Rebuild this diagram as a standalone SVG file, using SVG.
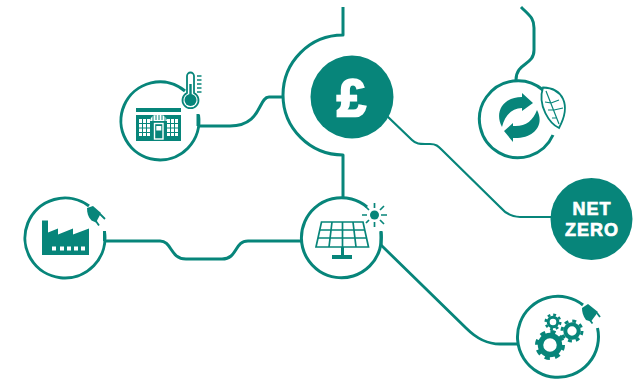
<svg xmlns="http://www.w3.org/2000/svg" width="633" height="379" viewBox="0 0 633 379">
<style>
.l{fill:none;stroke:#07857a;stroke-width:3;stroke-linejoin:round}
.t{stroke-width:2.2}
.m{stroke-width:2.8}
.f{fill:#07857a}
.s{fill:none;stroke:#07857a}
.tx{font-family:"Liberation Sans",sans-serif;font-weight:700;fill:#fff;stroke:#fff;stroke-width:.7;text-anchor:middle;letter-spacing:1px}
</style>
<rect width="633" height="379" fill="#fff"/>
<g id="connectors">
<path class="l" d="M343 7V35A60 60 0 0 0 343 155V197"/>
<path class="l" d="M283 97H269C258 97 262 126 230 126H198"/>
<path class="l" d="M105 241H160C172 241 170 259 186 259H222C238 259 234 241 248 241H301"/>
<path class="l m" d="M381 245L466 328C478 340 488 344 500 344H517"/>
<path class="l t" d="M387 116L412 140C416 144 420 144 425 144H430C436 144 438 146 442 150L500 207C506 214 512 217 520 217H552"/>
<path class="l" d="M521 7C530 16 534 18 534 28V50C534 66 516 62 516 80"/>
<path class="l" d="M198 114V126M104.500 231V241M381 231V246"/>
</g>
<g id="pound">
<circle class="f" cx="352" cy="97" r="41.500"/>
<text class="tx" x="351.500" y="116" font-size="52" style="letter-spacing:0;stroke-width:2.400">£</text>
</g>
<g id="net-zero">
<circle class="f" cx="591.500" cy="219" r="41"/>
<text class="tx" x="592" y="215" font-size="18">NET</text>
<text class="tx" x="592" y="236" font-size="18">ZERO</text>
</g>
<g id="shop">
<path class="l" d="M198.500 115A39 39 0 1 1 185 91"/>
<rect class="f" x="136" y="108" width="45" height="4"/>
<rect class="f" x="136" y="115" width="45" height="26"/>
<rect x="139" y="119" width="11" height="17" fill="#fff"/>
<rect x="167" y="119" width="11" height="17" fill="#fff"/>
<path d="M139 123.500H150M139 128H150M139 132.500H150M142.500 119V136M146.500 119V136M167 123.500H178M167 128H178M167 132.500H178M170.500 119V136M174.500 119V136" class="s" stroke-width="1"/>
<path d="M150 121Q151 116 155 115H162Q166 116 167 121" fill="#fff"/>
<path d="M153 116V121M156 115V120M159 115V120M162 115V120M165 116V121" class="s" stroke-width="1"/>
<rect x="154.500" y="123.500" width="8.500" height="15.500" class="s" style="stroke:#fff" stroke-width="1.400"/>
<rect x="156.300" y="126" width="5" height="4.500" fill="#fff"/>
<path d="M187 76A3.500 3.500 0 0 1 194 76V93A8 8 0 1 1 187 93Z" fill="#fff" stroke="#07857a" stroke-width="1.800"/>
<circle class="f" cx="190.500" cy="100" r="6"/>
<rect class="f" x="189.300" y="84" width="2.400" height="12"/>
<path d="M197 76H201.500M197 80H201.500M197 84H201.500M197 88H201.500M197 92H201.500" class="s" stroke-width="1.300"/>
</g>
<g id="factory">
<path class="l" d="M104.500 232A40 40 0 1 1 89 206"/>
<path class="f" d="M42 220.500H48V232.500L58 228.500V234.500L73 228.500V234.500L89 228.500V255H42Z"/>
<path d="M52 246.500h4v4h-4zM60 246.500h4v4h-4zM67 246.500h4v4h-4zM74 246.500h4v4h-4zM81 246.500h4v4h-4z" fill="#fff"/>
<path class="f" d="M87 208L93 206L101 213L96 222.500L91.500 220.500C88 217 87 213 87 208Z"/>
<path d="M100 214L105 219M95.500 220.500L99 225.500" class="s" stroke-width="1.800"/>
</g>
<g id="solar">
<path class="l" d="M381 232A40 40 0 1 1 367 207"/>
<path d="M321.500 222H363L368.500 247H316Z" fill="#fff" stroke="#07857a" stroke-width="1.700"/>
<path d="M319.500 230H365M318 238H367M332 222L329 247M342.500 222V247M353 222L356 247" class="s" stroke-width="1.700"/>
<rect class="f" x="341" y="247" width="3" height="9"/>
<rect class="f" x="332" y="255" width="20" height="4"/>
<circle class="f" cx="374.500" cy="215" r="4.500"/>
<path d="M374.500 203V208M374.500 222V227M362 215H367M381 215H387M366 207L369 210M380 220L384 224M366 223L369 220M380 210L384 206" class="s" stroke-width="1.700"/>
</g>
<g id="recycle">
<path class="l" d="M543 90A38.500 38.500 0 1 0 553 135"/>
<path d="M543 87.500C562 88 572 104 559 128C550 124 537 106 543 87.500Z" fill="#fff" stroke="#07857a" stroke-width="1.800"/>
<path d="M546 91L559 124M551 103L559 100M554 110L563 108M551 103L545 102M554 110L548 110M557 118L552 118" class="s" stroke-width="1.200"/>
<path class="f" d="M522 93L533 103L522 111V108C512 108 505 115 502 127C494 112 503 97 522 97Z"/>
<path class="f" d="M513 142L504 131L513 123V126C525 127 533 121 537 110C545 125 534 139 513 138Z"/>
</g>
<g id="gears">
<path class="l" d="M597.500 328A40.500 40.500 0 1 1 583 305"/>
<path class="f" d="M582 308L588 304L598 312L591 321.500L586 320C583 316 582 312 582 308Z"/>
<path d="M597 313L600 317M589 319L592.500 323.500" class="s" stroke-width="1.800"/>
<circle cx="550" cy="345" r="9.500" class="s" stroke-width="5.500"/>
<circle cx="550" cy="345" r="13" class="s" stroke-width="4" stroke-dasharray="5.100 5.110"/>
<circle cx="572" cy="331" r="6.700" class="s" stroke-width="4"/>
<circle cx="572" cy="331" r="10" class="s" stroke-width="3" stroke-dasharray="3.900 3.950"/>
<circle cx="553" cy="322" r="4.800" class="s" stroke-width="3"/>
<circle cx="553" cy="322" r="7.300" class="s" stroke-width="2.400" stroke-dasharray="2.860 2.870"/>
</g>
</svg>
